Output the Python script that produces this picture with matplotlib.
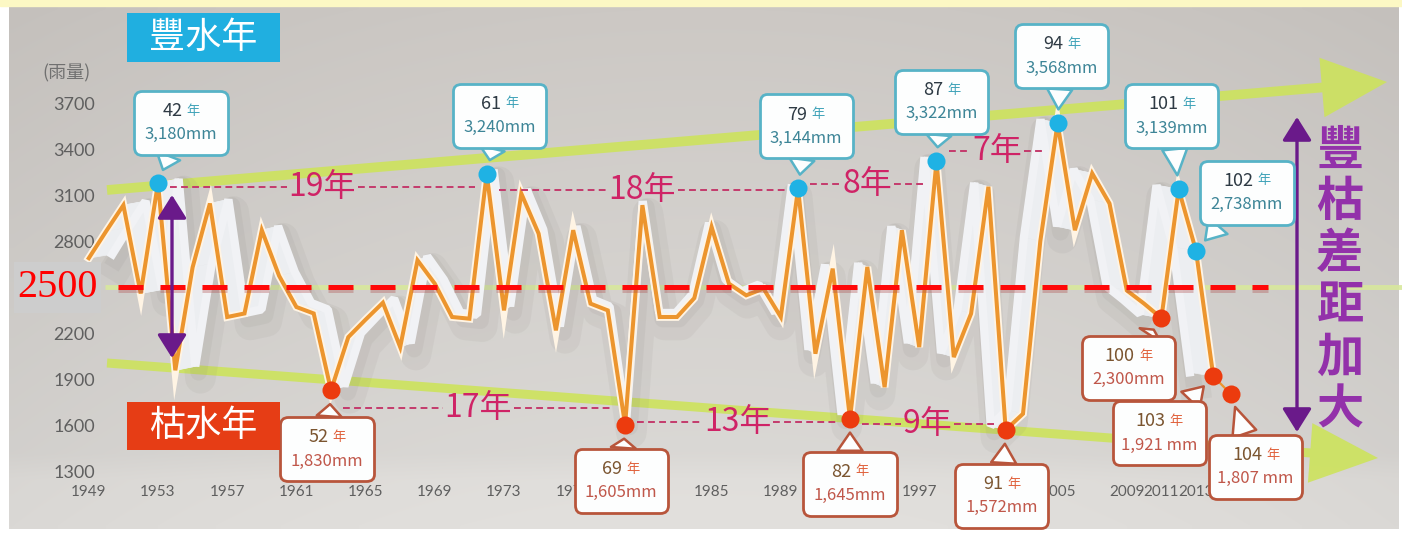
import numpy as np
import matplotlib
matplotlib.use("Agg")
import matplotlib.pyplot as plt
import matplotlib.patheffects as pe
from matplotlib.patches import Rectangle, Polygon, FancyArrowPatch
from matplotlib.offsetbox import DrawingArea, AnnotationBbox
from matplotlib.text import Text

plt.rcParams['font.family'] = ['Noto Sans CJK TC', 'DejaVu Sans']

# ---------------- data ----------------
years = list(range(1949, 2016))
rain_mm = [2690, 2865, 3035, 2460, 3180, 1960, 2630, 3046, 2307, 2330,
           2872, 2575, 2372, 2330, 1830, 2176, 2290, 2400, 2111, 2676,
           2524, 2307, 2296, 3240, 2350, 3111, 2850, 2220, 2872, 2394,
           2350, 1605, 3035, 2307, 2307, 2430, 2893, 2524, 2448, 2492,
           2307, 3144, 2068, 2622, 1645, 2633, 1850, 2872, 2111, 3322,
           2046, 2329, 3155, 1572, 1677, 2800, 3568, 2872, 3242, 3046,
           2480, 2394, 2300, 3139, 2738, 1921, 1807]
threshold = 2500
roc_offset = 1911
wet_roc = [42, 61, 79, 87, 94, 101, 102]
dry_roc = [52, 69, 82, 91, 100, 103, 104]
wet_chain = [42, 61, 79, 87, 94]
dry_chain = [52, 69, 82, 91]
unit_sep = {103: ' ', 104: ' '}
# the 2500 tick is shown by the red threshold label
y_ticks = [1300, 1600, 1900, 2200, 2800, 3100, 3400, 3700]
x_ticks = [1949, 1953, 1957, 1961, 1965, 1969, 1973, 1977, 1981, 1985,
           1989, 1993, 1997, 2001, 2005, 2009, 2011, 2013, 2015]
x_labels = [str(v) for v in x_ticks]
title_wet = "豐水年"
title_dry = "枯水年"
unit_label = "(雨量)"
spread_label = "豐枯差距加大"

# ---------------- layout (pixel frame of the 1402x534 picture) ----------------
W, H = 1402, 534
PX_PER_YEAR = 17.3
MM_PER_PX = 2400 / 368.7
X_LEFT = 1953 - 158 / PX_PER_YEAR
Y_TOP = 3700 + 103 * MM_PER_PX
def fx(px): return X_LEFT + px / PX_PER_YEAR
def fy(py): return Y_TOP - py * MM_PER_PX
PT = 0.72  # points per pixel at dpi 100

callout_offset = {42: (23, -60), 61: (13, -58), 79: (8, -62), 87: (5, -59),
                  94: (4, -67), 101: (-7, -73), 102: (51, -58),
                  52: (-4, 59), 69: (-4, 56), 82: (0, 65), 91: (-4, 66),
                  100: (-33, 50), 103: (-54, 57), 104: (25, 73)}

ORANGE = '#ec952e'
BLUE = '#1fb2e4'
RED = '#ec3b0e'
PINK = '#cf2366'
PURPLE_D = '#6a1a8a'
PURPLE_T = '#9331aa'
GREEN = '#cde35c'

fig = plt.figure(figsize=(W / 100, H / 100), dpi=100)
fig.patch.set_facecolor('white')
ax = fig.add_axes([0, 0, 1, 1])
ax.patch.set_visible(False)
for s in ax.spines.values():
    s.set_visible(False)

# background gradient
gh, gw = 80, 160
v = np.linspace(0, 1, gh)[:, None, None]
u = np.linspace(0, 1, gw)[None, :, None]
top = np.array([196, 192, 188])[None, None, :]
bot = np.array([212, 210, 207])[None, None, :]
img = top + (bot - top) * v ** 0.9 + 8 * (1 - (2 * u - 1) ** 2) + 6 * np.clip((v - 0.86) / 0.05, 0, 1)
img = np.clip(img / 255.0, 0, 1)
ax.imshow(img, extent=(fx(9), fx(1399), fy(529), fy(6)), aspect='auto',
          interpolation='bilinear', zorder=0)
ax.add_patch(Rectangle((0, 1 - 6 / H), 1, 6 / H, transform=ax.transAxes,
                       color='#fcf8c4', zorder=0.5, clip_on=False))

# green trend arrows + faint 2500 guide
ax.plot([fx(105), fx(1402)], [threshold, threshold], color='#d8e89c', lw=3.5,
        alpha=0.9, zorder=1, solid_capstyle='butt')
ax.add_patch(FancyArrowPatch((fx(107), fy(190)), (fx(1387), fy(82)),
             arrowstyle='simple,head_length=4.7,head_width=4.3,tail_width=0.7',
             mutation_scale=10, color=GREEN, alpha=0.9, shrinkA=0, shrinkB=0,
             zorder=1, lw=0))
ax.add_patch(FancyArrowPatch((fx(107), fy(363)), (fx(1378), fy(458)),
             arrowstyle='simple,head_length=4.9,head_width=4.3,tail_width=0.65',
             mutation_scale=10, color=GREEN, alpha=0.9, shrinkA=0, shrinkB=0,
             zorder=1, lw=0))

# ---------------- rainfall line with 3D ribbon ----------------
xs = np.array(years, float)
ys = np.array(rain_mm, float)
n_main = len(years) - 1
xm, ym = xs[:n_main], ys[:n_main]
pxpos = (xm - X_LEFT) * PX_PER_YEAR
xo = xm + 0.042 * (650 - pxpos) / PX_PER_YEAR
yo = ym + 4 * MM_PER_PX
ax.plot(xo + 0.3, yo - 12 * MM_PER_PX, color='#7d7873', lw=22, alpha=0.08,
        solid_joinstyle='round', zorder=2)
ax.plot(xo + 0.2, yo - 6 * MM_PER_PX, color='#8a8580', lw=12, alpha=0.10,
        solid_joinstyle='round', zorder=2)
for i in range(n_main - 1):
    poly = [(xm[i], ym[i]), (xm[i + 1], ym[i + 1]), (xo[i + 1], yo[i + 1]), (xo[i], yo[i])]
    ax.add_patch(Polygon(poly, closed=True, fc='#eceef1', ec='#eceef1', lw=0.5, zorder=3))
ax.plot(xo, yo, color='#f1f2f5', lw=6, solid_joinstyle='bevel', zorder=3)
ax.plot(xm, ym, color=ORANGE, lw=2.9, zorder=4, solid_joinstyle='miter',
        path_effects=[pe.Stroke(linewidth=5.6, foreground='#fff4e4'), pe.Normal()])
ax.plot(xs[-2:], ys[-2:], color=ORANGE, lw=1.6, zorder=4)

# red 2500 dashed line
ax.plot([fx(118), fx(1268)], [threshold - 2.5 * MM_PER_PX] * 2, color='#b05050', lw=3.6,
        alpha=0.35, dashes=(5, 3.4), zorder=5)
ax.plot([fx(118), fx(1268)], [threshold, threshold], color='#ff0808', lw=3.6,
        dashes=(5, 3.4), zorder=5, dash_capstyle='butt')
ax.add_patch(Rectangle((fx(14), fy(313)), fx(101) - fx(14), fy(262) - fy(313),
                       fc='#cdcdcd', ec='none', zorder=8))
ax.text(fx(57.5), threshold, f"{threshold}", ha='center', va='center', fontsize=29,
        family='Liberation Serif', color='#ff0000', zorder=9)

# ---------------- interval labels ----------------
def val(roc):
    return rain_mm[years.index(roc + roc_offset)]

interval_texts = []
for chain, shift in ((wet_chain, -60), (dry_chain, 0)):
    for a, b in zip(chain[:-1], chain[1:]):
        xa, xb = a + roc_offset, b + roc_offset
        ylev = (val(a) + val(b)) / 2 + shift
        t = ax.text((xa + xb) / 2, ylev, f"{b - a}年", ha='center', va='center',
                    fontsize=23, color=PINK, zorder=6)
        interval_texts.append((t, xa, xb, ylev))

# ---------------- spread arrows / text ----------------
for (x0, ya, yb) in [(fx(172), fy(195), fy(358)), (fx(1297), fy(117), fy(432))]:
    ax.annotate('', xy=(x0, ya), xytext=(x0, yb),
                arrowprops=dict(arrowstyle='<|-|>,head_length=0.8,head_width=0.5',
                                mutation_scale=18, color=PURPLE_D, lw=2.4,
                                shrinkA=0, shrinkB=0), zorder=6)
ax.text(fx(1340), fy(280), "\n".join(spread_label), ha='center', va='center',
        fontsize=34, color=PURPLE_T, fontweight='bold', linespacing=1.1, zorder=6)

# ---------------- markers ----------------
ax.plot([r + roc_offset for r in wet_roc], [val(r) for r in wet_roc], 'o', ms=13,
        color=BLUE, mec='none', zorder=7)
ax.plot([r + roc_offset for r in dry_roc], [val(r) for r in dry_roc], 'o', ms=13,
        color=RED, mec='none', zorder=7)

# ---------------- callouts ----------------
def callout(roc, hi):
    yr = roc + roc_offset
    vv = val(roc)
    dxp, dyp = callout_offset[roc]
    ec = '#57b3c7' if hi else '#b8553b'
    c_num = '#2e3a44' if hi else '#7b5530'
    c_nian = '#3ea2b8' if hi else '#e0603a'
    c_val = '#3d8597' if hi else '#c0574a'
    bw, bh = 62, 41
    da = DrawingArea(bw, bh, 0, 0)
    s = str(roc)
    num_w = 7.2 * len(s)
    total = num_w + 3 + 9.5
    left = bw / 2 - total / 2
    da.add_artist(Text(left + num_w, 29, s, ha='right', va='center', fontsize=13,
                       color=c_num, family=['Noto Sans CJK TC']))
    da.add_artist(Text(left + num_w + 3, 29, '年', ha='left', va='center', fontsize=9.5,
                       color=c_nian, family=['Noto Sans CJK TC']))
    da.add_artist(Text(bw / 2, 12, f"{vv:,}{unit_sep.get(roc, '')}mm", ha='center',
                       va='center', fontsize=12, color=c_val, family=['Noto Sans CJK TC']))
    ab = AnnotationBbox(da, (yr, vv), xybox=(dxp * PT, -dyp * PT), boxcoords='offset points',
                        frameon=True, fontsize=10,
                        bboxprops=dict(boxstyle='round,pad=0.25,rounding_size=0.55',
                                       fc='#fdfefe', ec=ec, lw=2),
                        arrowprops=dict(arrowstyle='wedge,tail_width=1.3,shrink_factor=0.5',
                                        fc='#fdfefe', ec=ec, lw=1.8, shrinkA=0, shrinkB=10),
                        zorder=8)
    ax.add_artist(ab)

for r in wet_roc:
    callout(r, True)
for r in dry_roc:
    callout(r, False)

# ---------------- title boxes ----------------
ax.add_patch(Rectangle((fx(127), fy(62)), fx(280) - fx(127), fy(13) - fy(62),
                       fc='#20afe0', ec='none', zorder=8))
ax.text(fx(203), fy(38), title_wet, ha='center', va='center', fontsize=26,
        color='white', zorder=9)
ax.add_patch(Rectangle((fx(127), fy(450)), fx(280) - fx(127), fy(402) - fy(450),
                       fc='#e63d15', ec='none', zorder=8))
ax.text(fx(203), fy(426), title_dry, ha='center', va='center', fontsize=26,
        color='white', zorder=9)
ax.text(fx(66), fy(73), unit_label, ha='center', va='center', fontsize=13,
        color='#707070', zorder=6)

# ---------------- axes / ticks ----------------
ax.set_xlim(fx(0), fx(W))
ax.set_ylim(fy(H), fy(0))
ax.set_yticks(y_ticks)
ax.set_yticklabels([str(t) for t in y_ticks])
ax.set_xticks(x_ticks)
ax.set_xticklabels(x_labels)
ax.tick_params(axis='y', length=0, pad=-95 * PT, labelsize=13, labelcolor='#5f5f5f',
               labelfontfamily='Lato')
ax.tick_params(axis='x', length=0, pad=-49 * PT, labelsize=11, labelcolor='#5f5f5f',
               labelfontfamily='Lato')

# dashed connectors around interval labels
fig.canvas.draw()
rend = fig.canvas.get_renderer()
inv = ax.transData.inverted()
for t, xa, xb, ylev in interval_texts:
    bb = t.get_window_extent(rend)
    (x0, _), (x1, _) = inv.transform([(bb.x0, bb.y0), (bb.x1, bb.y1)])
    for s0, s1 in [(xa + 0.7, x0 - 0.1), (x1 + 0.1, xb - 0.7)]:
        if s1 > s0:
            ax.plot([s0, s1], [ylev, ylev], color='#c43a6c', lw=1.4, dashes=(3.5, 2.2),
                    zorder=6)

fig.savefig('out.png', dpi=100, facecolor='white')
